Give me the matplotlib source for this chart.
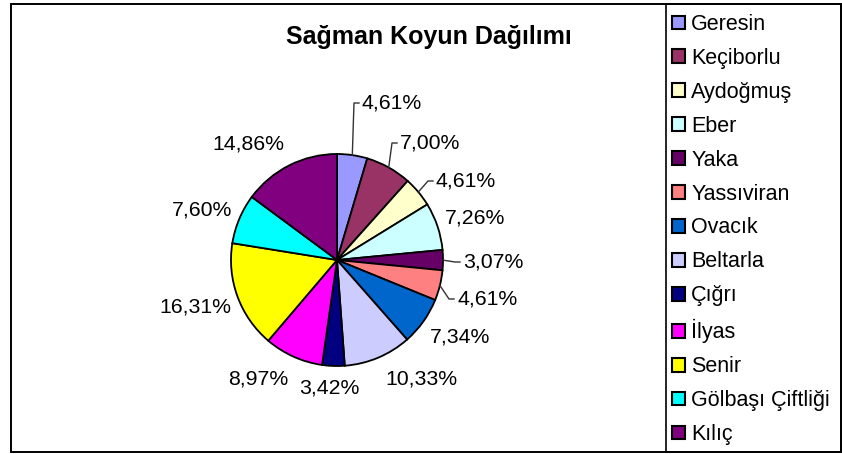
import numpy as np
import matplotlib.pyplot as plt
from matplotlib.patches import Rectangle

plt.rcParams['font.family'] = ['Liberation Sans', 'DejaVu Sans']

# Data
villages = ['Geresin', 'Keçiborlu', 'Aydoğmuş', 'Eber', 'Yaka', 'Yassıviran',
            'Ovacık', 'Beltarla', 'Çığrı', 'İlyas', 'Senir',
            'Gölbaşı Çiftliği', 'Kılıç']
shares = [4.61, 7.00, 4.61, 7.26, 3.07, 4.61, 7.34, 10.33, 3.42, 8.97, 16.31,
          7.60, 14.86]
colors = ['#9999FF', '#993366', '#FFFFCC', '#CCFFFF', '#660066', '#FF8080',
          '#0066CC', '#CCCCFF', '#000080', '#FF00FF', '#FFFF00', '#00FFFF',
          '#800080']

# Layout in pixel units (y measured from the top)
W, H = 842, 454
center = (337, 260)
radius = 106
# left edge / vertical centre of each percentage label
label_xy = [(362, 103), (400, 143), (436, 181), (445, 218), (463, 262),
            (457, 299), (430, 337), (385, 379), (299, 388), (228, 379),
            (159, 307), (172, 210), (212, 144)]
has_leader = [True, True, True, False, True, True, False, False, False,
              False, False, False, False]

fig = plt.figure(figsize=(W / 100, H / 100), dpi=100)
ax = fig.add_axes([0, 0, 1, 1])

wedges, _ = ax.pie(shares, colors=colors, startangle=90, counterclock=False,
                   center=(center[0], H - center[1]), radius=radius,
                   wedgeprops=dict(edgecolor='black', linewidth=1.3))

ax.set_xlim(0, W)
ax.set_ylim(0, H)
ax.set_aspect('auto')
ax.axis('off')

for w, val, (tx, ty), lead in zip(wedges, shares, label_xy, has_leader):
    ty = H - ty
    ax.text(tx, ty, f'{val:.2f}%'.replace('.', ','), fontsize=15.3,
            ha='left', va='center')
    if lead:
        mid = np.deg2rad((w.theta1 + w.theta2) / 2)
        ex = w.center[0] + w.r * np.cos(mid)
        ey = w.center[1] + w.r * np.sin(mid)
        ax.plot([ex, tx - 8, tx - 3], [ey, ty, ty], color='#333333', lw=1)

ax.text(429, H - 37, 'Sağman Koyun Dağılımı', fontsize=18, fontweight='bold',
        ha='center', va='center')

# chart border and legend box
ax.add_patch(Rectangle((11, 2), 830, 448, fill=False, edgecolor='black',
                       lw=1.4))
ax.add_patch(Rectangle((666, 2), 175, 448, fill=False, edgecolor='black',
                       lw=1.2))

leg = ax.legend(wedges, villages, loc='upper left',
                bbox_to_anchor=(672, H - 14), bbox_transform=ax.transData,
                frameon=False, fontsize=15.5, handlelength=0.6,
                handleheight=0.6, handletextpad=0.3, borderpad=0,
                borderaxespad=0, labelspacing=0.60)
for h in leg.legend_handles:
    h.set_linewidth(1.5)

fig.savefig('out.png', dpi=100)
